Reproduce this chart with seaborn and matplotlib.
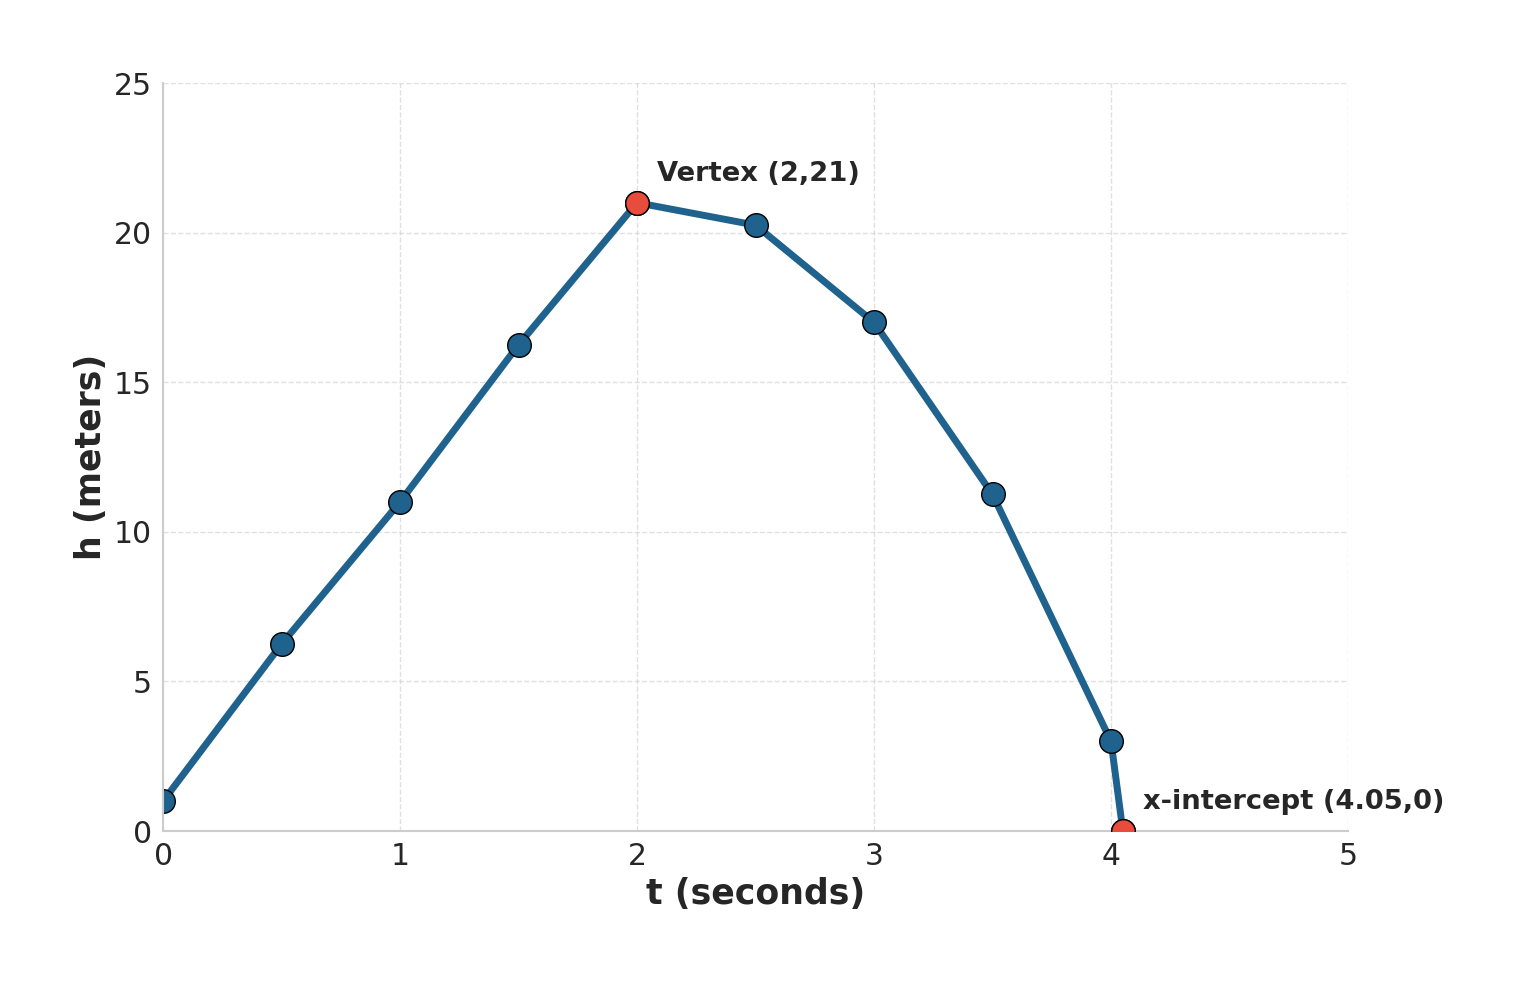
import pandas as pd
import seaborn as sns
import matplotlib.pyplot as plt

# projectile height data
t = [0, 0.5, 1, 1.5, 2, 2.5, 3, 3.5, 4, 4.05]
h = [1, 6.25, 11, 16.25, 21, 20.25, 17, 11.25, 3, 0]
key_t = [2, 4.05]
key_h = [21, 0]
key_labels = ['Vertex (2,21)', 'x-intercept (4.05,0)']

df = pd.DataFrame({'t': t, 'h': h})

sns.set_theme(style='whitegrid')
plt.rcParams['font.family'] = ['DejaVu Sans']

fig, ax = plt.subplots(figsize=(15.17, 9.85), dpi=100)
fig.subplots_adjust(left=0.1075, right=0.8886, top=0.9157, bottom=0.1563)

sns.lineplot(data=df, x='t', y='h', ax=ax, color='#1f628e', linewidth=5,
             marker='o', markersize=17, markerfacecolor='#1f628e',
             markeredgecolor='black', markeredgewidth=1)
ax.plot(key_t, key_h, 'o', color='#e74c3c', markersize=17,
        markeredgecolor='black', markeredgewidth=1, zorder=5)

for x, y, s in zip(key_t, key_h, key_labels):
    ax.annotate(s, (x, y), xytext=(20, 29), textcoords='offset pixels',
                fontsize=19.7, fontweight='bold', color='#262626', va='center')

ax.set_xlim(0, 5)
ax.set_ylim(0, 25)
ax.set_xticks([0, 1, 2, 3, 4, 5])
ax.set_yticks([0, 5, 10, 15, 20, 25])
ax.grid(True, linestyle='--', alpha=0.6)
ax.tick_params(labelsize=21.5, colors='#262626', pad=2)
ax.set_xlabel('t (seconds)', fontsize=25, fontweight='bold', color='#262626')
ax.set_ylabel('h (meters)', fontsize=25, fontweight='bold', color='#262626')
sns.despine(ax=ax)
for sp in ['left', 'bottom']:
    ax.spines[sp].set_color('#cccccc')
    ax.spines[sp].set_linewidth(1.5)

plt.savefig('out.png', dpi=100)
